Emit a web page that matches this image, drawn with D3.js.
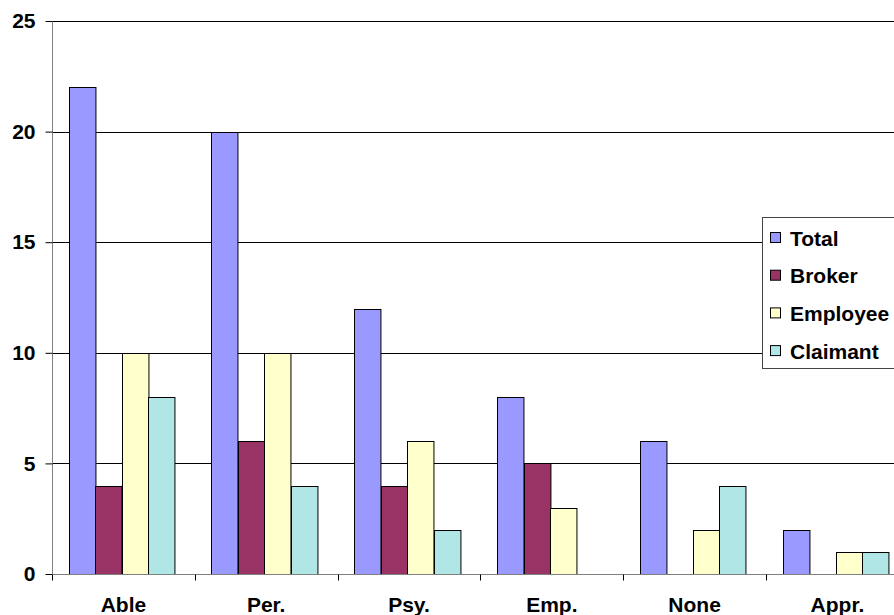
<html>
  <head>
    <meta charset="utf-8" />
    <script src="https://d3js.org/d3.v7.min.js"></script>
    <style>
      body { margin: 0; background: #fff; }
      text { font-family: Arial, "Liberation Sans", sans-serif; font-weight: bold; }
    </style>
  </head>
  <body>
    <svg id="chart" width="894" height="615"></svg>
    <script>
      var categories = ["Able", "Per.", "Psy.", "Emp.", "None", "Appr."];
      var series = ["Total", "Broker", "Employee", "Claimant"];
      var total = [22, 20, 12, 8, 6, 2];
      var broker = [4, 6, 4, 5, 0, 0];
      var employee = [10, 10, 6, 3, 2, 1];
      var claimant = [8, 4, 2, 0, 4, 1];
      var yTicks = [0, 5, 10, 15, 20, 25];
      var colors = ["#9999ff", "#993366", "#ffffcc", "#b0e6e6"];

      var values = [total, broker, employee, claimant];
      var data = [];
      categories.forEach(function (c, i) {
        series.forEach(function (s, j) {
          data.push({ cat: c, series: s, value: values[j][i], color: colors[j] });
        });
      });

      var svg = d3.select("#chart");
      var plotLeft = 52, plotTop = 21, plotBottom = 574, step = 142.8;

      var x0 = d3.scaleBand().domain(categories)
        .range([plotLeft, plotLeft + step * categories.length]).padding(0);
      var x1 = d3.scaleBand().domain(series)
        .range([0, x0.bandwidth()]).paddingInner(0).paddingOuter(0.7).align(0.45);
      var y = d3.scaleLinear().domain([0, 25]).range([plotBottom, plotTop]);

      // gridlines
      svg.append("g")
        .selectAll("line")
        .data(yTicks.filter((d) => d > 0))
        .enter()
        .append("line")
        .attr("x1", plotLeft).attr("x2", 894)
        .attr("y1", (d) => Math.round(y(d)) + 0.5)
        .attr("y2", (d) => Math.round(y(d)) + 0.5)
        .attr("stroke", "#000").attr("stroke-width", 1);

      // bars
      svg.append("g")
        .selectAll("rect")
        .data(data.filter((d) => d.value > 0))
        .enter()
        .append("rect")
        .attr("x", (d) => Math.round(x0(d.cat) + x1(d.series)) + 0.5)
        .attr("y", (d) => Math.round(y(d.value)) + 0.5)
        .attr("width", x1.bandwidth())
        .attr("height", (d) => Math.round(y(0)) - Math.round(y(d.value)))
        .attr("fill", (d) => d.color)
        .attr("stroke", "#000").attr("stroke-width", 1);

      // y axis
      var yAxis = svg.append("g")
        .attr("transform", "translate(" + (plotLeft + 0.5) + ",0)")
        .call(d3.axisLeft(y).tickValues(yTicks).tickSize(7).tickPadding(10).tickFormat(d3.format("d")));
      yAxis.select(".domain").attr("stroke", "#808080")
        .attr("d", "M0," + plotTop + "V" + plotBottom);
      yAxis.selectAll(".tick line").attr("stroke", "#000");
      yAxis.selectAll(".tick text").attr("font-size", 21).attr("font-weight", "bold").attr("fill", "#000")
        .attr("font-family", "Arial, 'Liberation Sans', sans-serif");

      // x axis
      var xAxis = svg.append("g")
        .attr("transform", "translate(0," + (plotBottom + 0.5) + ")");
      xAxis.append("line")
        .attr("x1", plotLeft).attr("x2", 894).attr("y1", 0).attr("y2", 0)
        .attr("stroke", "#808080");
      xAxis.selectAll(".xt")
        .data(categories)
        .enter()
        .append("line")
        .attr("x1", (d) => Math.round(x0(d)) + 0.5)
        .attr("x2", (d) => Math.round(x0(d)) + 0.5)
        .attr("y1", 0).attr("y2", 6)
        .attr("stroke", "#000");
      xAxis.selectAll("text")
        .data(categories)
        .enter()
        .append("text")
        .attr("x", (d) => x0(d) + x0.bandwidth() / 2)
        .attr("y", 37)
        .attr("text-anchor", "middle")
        .attr("font-size", 21)
        .text((d) => d);

      // legend
      var legend = svg.append("g").attr("transform", "translate(762,217)");
      legend.append("rect")
        .attr("x", 0.5).attr("y", 0.5).attr("width", 160).attr("height", 151)
        .attr("fill", "#fff").attr("stroke", "#444");
      var item = legend.selectAll(".item")
        .data(series)
        .enter()
        .append("g")
        .attr("transform", (d, i) => "translate(0," + (21 + i * 37.7) + ")");
      item.append("rect")
        .attr("x", 8.5).attr("y", -5.5).attr("width", 10).attr("height", 10)
        .attr("fill", (d, i) => colors[i]).attr("stroke", "#000");
      item.append("text")
        .attr("x", 28).attr("y", 7.5)
        .attr("font-size", 21)
        .text((d) => d);
    </script>
  </body>
</html>
